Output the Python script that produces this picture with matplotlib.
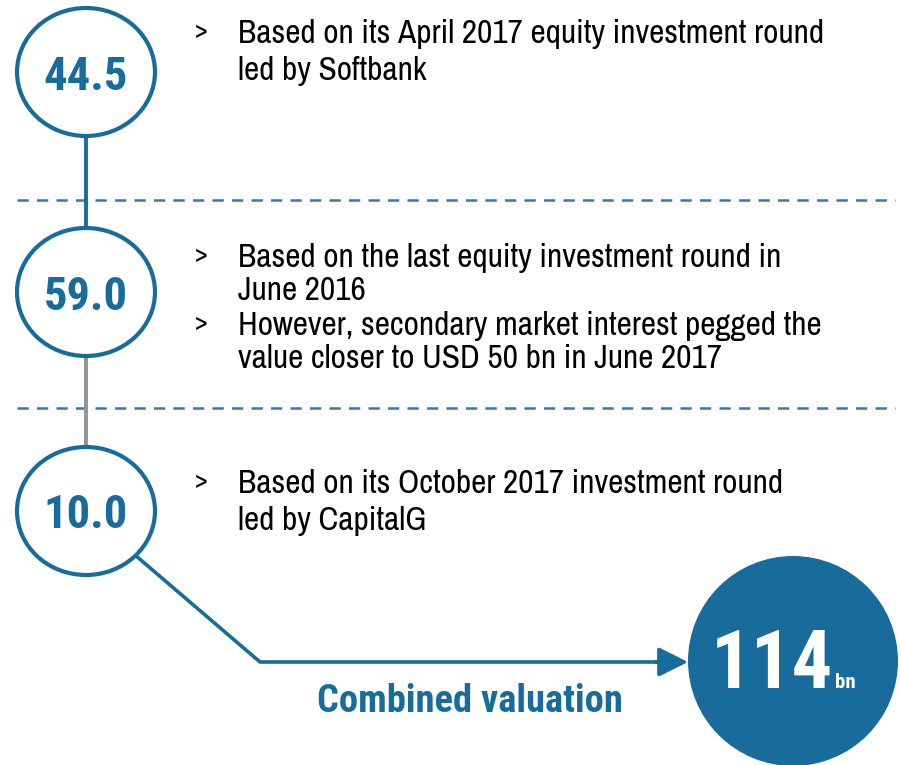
import matplotlib
matplotlib.use("Agg")
import matplotlib.pyplot as plt
from matplotlib.patches import Ellipse, Circle

# valuation parts (USD bn) and the notes next to each one
values = [44.5, 59.0, 10.0]
total = 114
unit = "bn"
notes = [
    [["Based on its April 2017 equity investment round", "led by Softbank"]],
    [["Based on the last equity investment round in", "June 2016"],
     ["However, secondary market interest pegged the", "value closer to USD 50 bn in June 2017"]],
    [["Based on its October 2017 investment round", "led by CapitalG"]],
]
total_label = "Combined valuation"

BLUE = "#186c9c"
DASH = "#2c7cb6"
GREY = "#8f9297"
REG = ["Archivo Narrow", "Roboto Condensed", "Liberation Sans", "DejaVu Sans"]
BOLD = ["Roboto Condensed", "IBM Plex Sans Condensed", "Liberation Sans", "DejaVu Sans"]

W, H = 901, 765
fig = plt.figure(figsize=(W / 100, H / 100), dpi=100)
ax = fig.add_axes([0, 0, 1, 1])
ax.set_xlim(0, W)
ax.set_ylim(H, 0)
ax.axis("off")

# layout (pixels)
cx = 86
centers_y = [72, 292, 511]
ew, eh = 138, 128
note_baselines = [[43], [267, 335], [493]]
line_gap = [37, 33, 37]
dash_y = [200, 408]

# connectors between the circles
ax.plot([cx, cx], [centers_y[0] + eh / 2, centers_y[1] - eh / 2],
        color=BLUE, lw=2.8, solid_capstyle="butt", zorder=1)
ax.plot([cx, cx], [centers_y[1] + eh / 2, centers_y[2] - eh / 2],
        color=GREY, lw=2.8, solid_capstyle="butt", zorder=1)

for y in dash_y:
    ax.plot([17, 895], [y, y], color=DASH, lw=1.8, ls=(0, (4.5, 3.3)), zorder=0)

for v, y in zip(values, centers_y):
    ax.add_patch(Ellipse((cx, y), ew, eh, facecolor="white",
                         edgecolor=BLUE, lw=3, zorder=2))
    ax.text(cx, y + 17.5, f"{v:.1f}", color=BLUE, fontsize=33.5,
            fontweight="bold", family=BOLD, ha="center", va="baseline", zorder=3)

for bullets, bases, gap in zip(notes, note_baselines, line_gap):
    for lines, b in zip(bullets, bases):
        ax.text(195, b - 5, ">", fontsize=19, family=REG, ha="left", va="baseline")
        for i, txt in enumerate(lines):
            ax.text(238, b + i * gap, txt, fontsize=24, family=REG,
                    ha="left", va="baseline")

# path to the total
ax.plot([135, 260, 665], [555, 662, 662], color=BLUE, lw=2.6,
        solid_joinstyle="miter", zorder=1)
ax.annotate("", xy=(688, 662), xytext=(655, 662),
            arrowprops=dict(arrowstyle="-|>,head_length=1.8,head_width=0.9",
                            color=BLUE, lw=2.6, shrinkA=0, shrinkB=0))

ax.add_patch(Circle((793, 661), 105, facecolor=BLUE, edgecolor="none", zorder=2))
ax.text(833, 688, f"{total}", color="white", fontsize=58, fontweight="bold",
        family=BOLD, ha="right", va="baseline", zorder=3)
ax.text(835, 688, unit, color="white", fontsize=15, fontweight="bold",
        family=BOLD, ha="left", va="baseline", zorder=3)

ax.text(470, 712, total_label, color=BLUE, fontsize=27.7, fontweight="bold",
        family=BOLD, ha="center", va="baseline")

fig.savefig("out.png", dpi=100)
